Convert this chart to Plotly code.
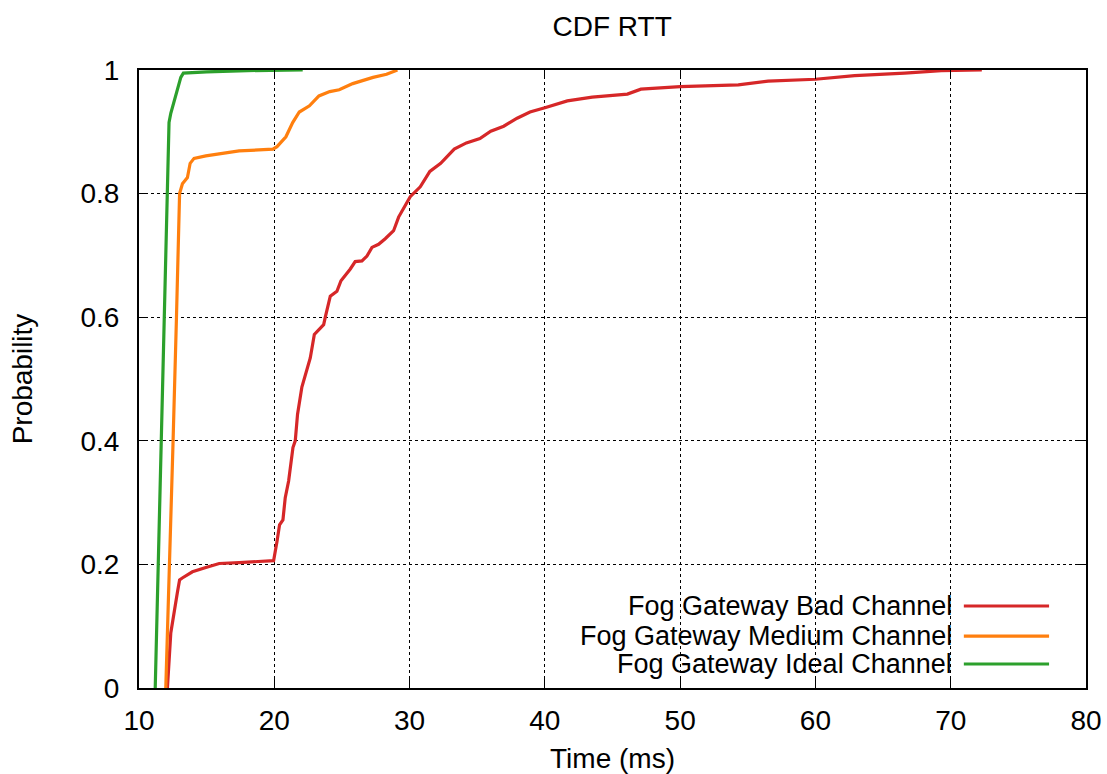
import plotly.graph_objects as go

# ---- data ----
bad_x = [12.1, 12.35, 12.84, 13.0, 13.2, 13.95, 14.94, 15.93, 17.4, 19.95, 20.2, 20.39,
         20.64, 20.81, 21.06, 21.38, 21.55, 21.72, 22.04, 22.41, 22.66, 22.96, 23.28, 23.65,
         23.77, 24.14, 24.63, 24.93, 25.62, 25.98, 26.48, 26.85, 27.22, 27.71, 28.2, 28.82,
         29.19, 29.68, 30.05, 30.79, 31.5, 32.3, 33.3, 34.2, 35.2, 36.0, 36.96, 37.95,
         38.9, 40.0, 41.66, 43.5, 46.1, 47.1, 50.0, 54.3, 56.5, 60.0, 62.9, 66.6, 69.3, 72.3]
bad_y = [0, 0.089, 0.155, 0.175, 0.178, 0.188, 0.195, 0.2015, 0.203, 0.206, 0.237, 0.264,
         0.272, 0.308, 0.335, 0.389, 0.4, 0.443, 0.487, 0.514, 0.534, 0.572, 0.58, 0.588,
         0.6, 0.634, 0.642, 0.659, 0.678, 0.69, 0.691, 0.699, 0.713, 0.718, 0.727, 0.74,
         0.762, 0.781, 0.795, 0.811, 0.836, 0.849, 0.872, 0.882, 0.889, 0.901, 0.909, 0.922,
         0.932, 0.939, 0.950, 0.956, 0.961, 0.969, 0.973, 0.976, 0.982, 0.985, 0.991, 0.995, 0.999, 1.0]

medium_x = [11.98, 12.27, 12.52, 12.77, 12.91, 13.0, 13.21, 13.58, 13.78, 14.07, 14.94, 15.93,
            17.4, 19.9, 20.2, 20.86, 21.36, 21.85, 22.6, 23.3, 24.1, 24.8, 25.8, 27.3, 28.3, 29.1]
medium_y = [0, 0.2, 0.4, 0.6, 0.75, 0.8, 0.816, 0.826, 0.849, 0.857, 0.861, 0.864,
            0.869, 0.872, 0.876, 0.892, 0.915, 0.932, 0.942, 0.958, 0.965, 0.968, 0.978, 0.988, 0.993, 1.0]

ideal_x = [11.2, 11.42, 11.64, 11.88, 12.07, 12.22, 12.35, 12.6, 12.84, 13.09, 13.28, 15.0, 18.0, 22.1]
ideal_y = [0, 0.2, 0.4, 0.6, 0.8, 0.915, 0.93, 0.95, 0.968, 0.988, 0.995, 0.997, 0.999, 1.0]

series_names = ["Fog Gateway Bad Channel", "Fog Gateway Medium Channel", "Fog Gateway Ideal Channel"]
series_colors = ["#d62728", "#ff7f0e", "#2ca02c"]

FONT = "Liberation Sans, Arial, sans-serif"
FS = 28
KFS = 27

fig = go.Figure()
for xs, ys, name, col in zip([bad_x, medium_x, ideal_x], [bad_y, medium_y, ideal_y],
                             series_names, series_colors):
    fig.add_trace(go.Scatter(x=xs, y=ys, mode="lines", name=name,
                             line=dict(color=col, width=3.2), showlegend=False))

# key (gnuplot style: text left, sample right) with white box
shapes = [dict(type="rect", xref="paper", yref="paper", x0=0.44, x1=1.0, y0=0.0, y1=0.155,
               fillcolor="white", line=dict(width=0), layer="between")]
annotations = []
key_y = [0.1327, 0.0841, 0.0388]
for name, col, ky in zip(series_names, series_colors, key_y):
    annotations.append(dict(text=name, xref="paper", yref="paper", x=0.8605, y=ky,
                            xanchor="right", yanchor="middle", showarrow=False,
                            font=dict(family=FONT, size=KFS, color="black")))
    shapes.append(dict(type="line", xref="paper", yref="paper", x0=0.871, x1=0.961,
                       y0=ky, y1=ky, line=dict(color=col, width=3.2), layer="above"))

axis_common = dict(showline=True, linecolor="black", linewidth=2, mirror="allticks",
                   ticks="inside", ticklen=9, tickcolor="black", tickwidth=1,
                   showgrid=True, gridcolor="black", gridwidth=1, griddash="dot",
                   zeroline=False, automargin=False,
                   tickfont=dict(family=FONT, size=FS, color="black"))

fig.update_layout(
    width=1107, height=774,
    margin=dict(l=139, r=21, t=70, b=86),
    paper_bgcolor="white", plot_bgcolor="white",
    title=dict(text="CDF RTT", x=0.553, xanchor="center", y=0.966, yanchor="middle",
               font=dict(family=FONT, size=FS, color="black")),
    xaxis=dict(range=[10, 80], dtick=10, tick0=10,
               title=dict(text="Time (ms)", font=dict(family=FONT, size=FS, color="black"), standoff=18),
               ticklabelstandoff=6, **axis_common),
    yaxis=dict(range=[0, 1], dtick=0.2, tick0=0,
               title=dict(text="Probability", font=dict(family=FONT, size=FS, color="black"), standoff=40),
               ticklabelstandoff=12, **axis_common),
    shapes=shapes, annotations=annotations,
)

fig.write_html("out.html")
